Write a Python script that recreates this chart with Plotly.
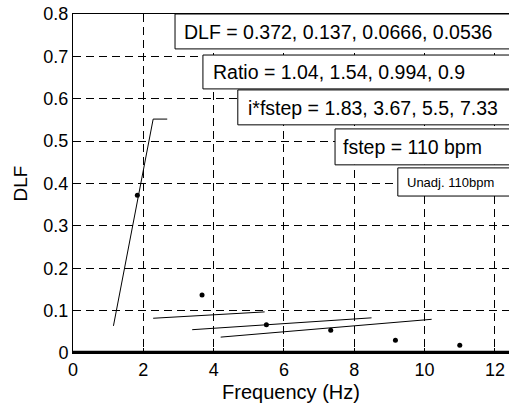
import plotly.graph_objects as go

# Data
freq = [1.83, 3.67, 5.5, 7.33, 9.17, 11.0]
dlf = [0.372, 0.137, 0.0666, 0.0536, 0.030, 0.018]

zero_x = [0, 12.4]
zero_y = [0, 0]

seg0_x = [1.15, 2.28, 2.68]
seg0_y = [0.064, 0.552, 0.552]
seg1_x = [2.28, 5.45]
seg1_y = [0.082, 0.097]
seg2_x = [3.39, 8.49]
seg2_y = [0.055, 0.083]
seg3_x = [4.20, 10.20]
seg3_y = [0.0375, 0.0795]

box_texts = [
    "DLF = 0.372, 0.137, 0.0666, 0.0536",
    "Ratio = 1.04, 1.54, 0.994, 0.9",
    "i*fstep = 1.83, 3.67, 5.5, 7.33",
    "fstep = 110 bpm",
    "Unadj. 110bpm",
]

x_ticks = [0, 2, 4, 6, 8, 10, 12]
y_ticks = [0, 0.1, 0.2, 0.3, 0.4, 0.5, 0.6, 0.7, 0.8]

FONT = "Arial, Liberation Sans, sans-serif"

fig = go.Figure()
fig.add_trace(go.Scatter(x=zero_x, y=zero_y, mode="lines",
                         line=dict(color="black", width=4.5), cliponaxis=False))
for sx, sy in [(seg0_x, seg0_y), (seg1_x, seg1_y), (seg2_x, seg2_y), (seg3_x, seg3_y)]:
    fig.add_trace(go.Scatter(x=sx, y=sy, mode="lines",
                             line=dict(color="black", width=1)))
fig.add_trace(go.Scatter(x=freq, y=dlf, mode="markers",
                         marker=dict(color="black", size=5)))

# box geometry in paper coords (positions/styles)
boxes = [
    dict(x0=0.234, y0=0.897, y1=1.0, tx=0.250, ty=0.948, size=19.5),
    dict(x0=0.298, y0=0.779, y1=0.879, tx=0.317, ty=0.829, size=19.5),
    dict(x0=0.378, y0=0.673, y1=0.776, tx=0.396, ty=0.724, size=19.5),
    dict(x0=0.601, y0=0.555, y1=0.661, tx=0.614, ty=0.608, size=19.5),
    dict(x0=0.745, y0=0.463, y1=0.546, tx=0.762, ty=0.504, size=13),
]
shapes = []
annotations = []
for b, t in zip(boxes, box_texts):
    shapes.append(dict(type="rect", xref="paper", yref="paper",
                       x0=b["x0"], x1=1.05, y0=b["y0"], y1=b["y1"],
                       line=dict(color="black", width=1), fillcolor="white",
                       layer="above"))
    annotations.append(dict(xref="paper", yref="paper", x=b["tx"], y=b["ty"],
                            xanchor="left", yanchor="middle", showarrow=False,
                            text=t, font=dict(family=FONT, size=b["size"], color="black")))

fig.update_layout(
    width=509, height=408,
    margin=dict(l=73, r=0, t=14, b=55, autoexpand=False),
    paper_bgcolor="white", plot_bgcolor="white",
    showlegend=False,
    font=dict(family=FONT, color="black", size=18),
    shapes=shapes, annotations=annotations,
    xaxis=dict(range=[0, 12.4], tickvals=x_ticks, ticktext=[str(v) for v in x_ticks],
               showline=True, linecolor="black", linewidth=1, mirror="ticks",
               ticks="inside", ticklen=5, tickcolor="black", automargin=False,
               showgrid=True, gridcolor="black", gridwidth=1, griddash="8px,5px",
               zeroline=False, tickfont=dict(size=18),
               title=dict(text="Frequency (Hz)", font=dict(size=20), standoff=6)),
    yaxis=dict(range=[0, 0.8], tickvals=y_ticks, ticktext=["0", "0.1", "0.2", "0.3", "0.4", "0.5", "0.6", "0.7", "0.8"],
               showline=True, linecolor="black", linewidth=1, mirror=False,
               ticks="inside", ticklen=5, tickcolor="black", automargin=False,
               showgrid=True, gridcolor="black", gridwidth=1, griddash="8px,5px",
               zeroline=False, tickfont=dict(size=18),
               title=dict(text="DLF", font=dict(size=19), standoff=10)),
)

fig.write_html(
    "out.html",
    config={"displayModeBar": False},
    post_script="document.body.style.margin='0';document.body.style.overflow='hidden';",
)
